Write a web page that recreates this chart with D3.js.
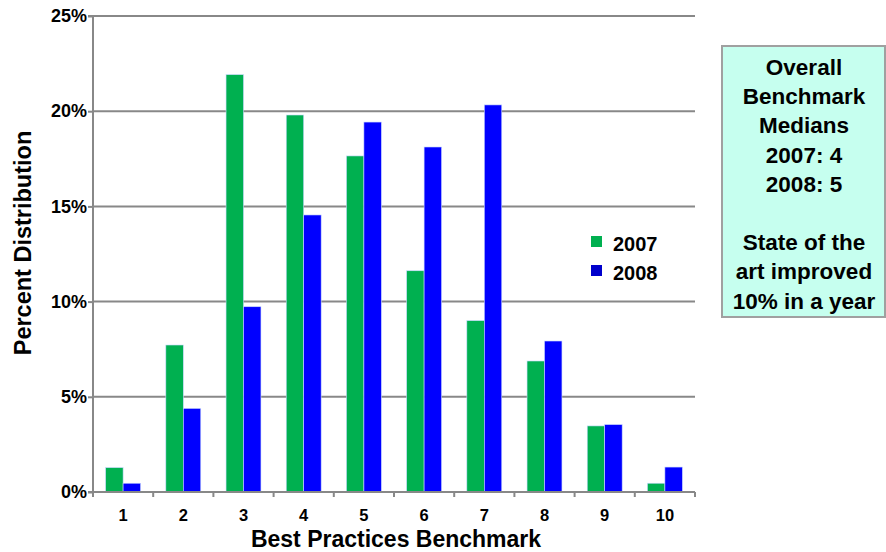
<!DOCTYPE html>
<html><head><meta charset="utf-8">
<script src="https://cdn.jsdelivr.net/npm/d3@7"></script>
<style>body{margin:0;background:#fff}svg{display:block;font-family:"Liberation Sans",Arial,sans-serif}</style>
</head><body><svg id="c" width="886" height="552"></svg>
<script>
const categories = ["1","2","3","4","5","6","7","8","9","10"];
const series2007 = [1.28, 7.72, 21.92, 19.8, 17.65, 11.62, 9.0, 6.88, 3.47, 0.46];
const series2008 = [0.46, 4.39, 9.73, 14.55, 19.43, 18.12, 20.33, 7.93, 3.54, 1.31];
const seriesNames = ["2007", "2008"];
const yTicks = [0, 5, 10, 15, 20, 25];
const noteLines = ["Overall", "Benchmark", "Medians", "2007: 4", "2008: 5", "", "State of the", "art improved", "10% in a year"];

const svg = d3.select("#c");
const FONT = "Liberation Sans, Arial, sans-serif";
const L = 93, R = 695, T = 16, B = 492;
const x = d3.scaleBand().domain(categories).range([L, R]).paddingInner(0.42).paddingOuter(0.21);
const xs = d3.scaleBand().domain(seriesNames).range([0, x.bandwidth()]);
const y = d3.scaleLinear().domain([0, 25]).range([B, T]);
const colors = {"2007": "#00B050", "2008": "#0000FF"};

// gridlines
svg.append("g").selectAll("line").data(yTicks.filter(d => d > 0)).join("line")
  .attr("x1", L).attr("x2", R).attr("y1", d => y(d)).attr("y2", d => y(d))
  .attr("stroke", "#888").attr("stroke-width", 2);

// bars
const data = categories.map((c, i) => ({c, vals: [{s: "2007", v: series2007[i]}, {s: "2008", v: series2008[i]}]}));
svg.append("g").selectAll("g").data(data).join("g")
  .attr("transform", d => `translate(${x(d.c)},0)`)
  .selectAll("rect").data(d => d.vals).join("rect")
  .attr("x", d => xs(d.s)).attr("width", xs.bandwidth())
  .attr("y", d => y(d.v)).attr("height", d => B - y(d.v))
  .attr("fill", d => colors[d.s]).attr("stroke", "#c8d8ff").attr("stroke-width", 0.6);

// y axis
const yAxis = svg.append("g").attr("transform", `translate(${L},0)`)
  .call(d3.axisLeft(y).tickValues(yTicks).tickFormat(d => d + "%").tickSize(5).tickPadding(1));
yAxis.select(".domain").attr("stroke", "#888").attr("stroke-width", 2).attr("d", `M-5,${T}H0V${B}H-5`);
yAxis.selectAll(".tick line").attr("stroke", "#888").attr("stroke-width", 2);
yAxis.selectAll("text").attr("font-size", 18).attr("font-weight", "bold").attr("fill", "#000").attr("font-family", FONT);

// x axis
const xAxis = svg.append("g").attr("transform", `translate(0,${B})`)
  .call(d3.axisBottom(x).tickSize(0).tickPadding(17));
xAxis.select(".domain").attr("stroke", "#888").attr("stroke-width", 2).attr("d", `M${L},0H${R}`);
xAxis.selectAll("text").attr("font-size", 16.5).attr("font-weight", "bold").attr("fill", "#000").attr("font-family", FONT);
const step = x.step();
svg.append("g").selectAll("line").data(d3.range(categories.length + 1)).join("line")
  .attr("x1", i => L + i * step).attr("x2", i => L + i * step)
  .attr("y1", B).attr("y2", B + 5).attr("stroke", "#888").attr("stroke-width", 2);

// axis titles
svg.append("text").attr("x", 396).attr("y", 547).attr("text-anchor", "middle")
  .attr("font-size", 23).attr("font-weight", "bold").text("Best Practices Benchmark");
svg.append("text").attr("transform", "translate(31,243) rotate(-90)").attr("text-anchor", "middle")
  .attr("font-size", 23.5).attr("font-weight", "bold").text("Percent Distribution");

// legend
const legend = svg.append("g").selectAll("g").data(seriesNames).join("g")
  .attr("transform", (d, i) => `translate(591,${236 + i * 29})`);
legend.append("rect").attr("width", 11).attr("height", 11).attr("fill", d => d === "2007" ? "#00B050" : "#0000CC");
legend.append("text").attr("x", 22).attr("y", 15).attr("font-size", 20).attr("font-weight", "bold").text(d => d);

// note box
svg.append("rect").attr("x", 722).attr("y", 46).attr("width", 163).attr("height", 271)
  .attr("fill", "#C6FFEF").attr("stroke", "#a0a0a0").attr("stroke-width", 2);
svg.append("g").selectAll("text").data(noteLines).join("text")
  .attr("x", 804).attr("y", (d, i) => 75 + i * 29.2).attr("text-anchor", "middle")
  .attr("font-size", 22.5).attr("font-weight", "bold").text(d => d);
</script></body></html>
